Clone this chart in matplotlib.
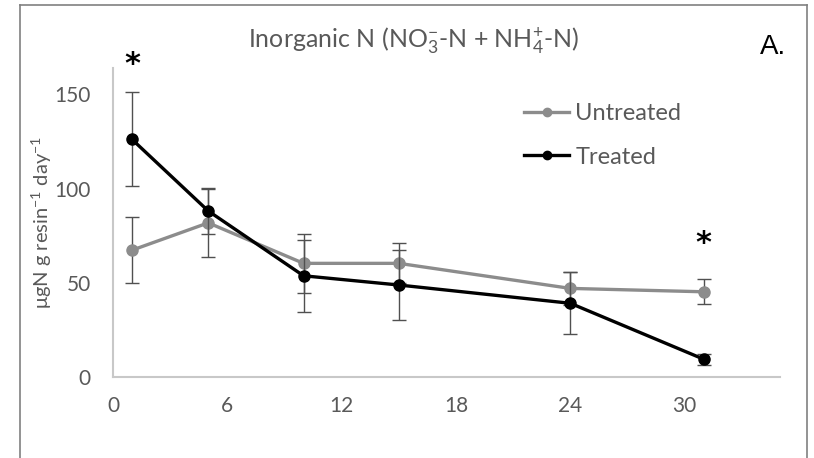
import matplotlib.pyplot as plt
from matplotlib.lines import Line2D

plt.rcParams['font.family'] = ['Lato', 'DejaVu Sans']
plt.rcParams['mathtext.fontset'] = 'custom'
plt.rcParams['mathtext.rm'] = 'Lato'
plt.rcParams['mathtext.it'] = 'Lato:italic'

days = [1, 5, 10, 15, 24, 31]
untreated = [67.3, 81.8, 60.3, 60.3, 47.0, 45.2]
untreated_err = [17.4, 18.2, 15.5, 10.6, 8.8, 6.6]
treated = [126.1, 88.1, 53.7, 48.8, 39.1, 9.4]
treated_err = [25.0, 12.0, 19.0, 18.8, 16.5, 3.0]
xticks = [0, 6, 12, 18, 24, 30]
yticks = [0, 50, 100, 150]
# significant differences (day, height of marker)
star_days = [1, 31]
star_heights = [166, 71]

GREY_TEXT = '#595959'

fig = plt.figure(figsize=(8.14, 4.58), dpi=100)
ax = fig.add_axes([0.1388, 0.177, 0.8194, 0.6745])

ax.errorbar(days, untreated, yerr=untreated_err, color='#8c8c8c', lw=2.4,
            marker='o', ms=8, ecolor='#505050', elinewidth=1, capsize=5,
            capthick=1, label='Untreated', zorder=2)
ax.errorbar(days, treated, yerr=treated_err, color='black', lw=2.4,
            marker='o', ms=8, ecolor='#505050', elinewidth=1, capsize=5,
            capthick=1, label='Treated', zorder=3)

for d, h in zip(star_days, star_heights):
    ax.text(d, h, '*', ha='center', va='center', fontsize=22,
            fontweight='bold', color='black', family='DejaVu Sans',
            clip_on=False)

ax.set_xlim(0, 35)
ax.set_ylim(0, 164)
ax.set_xticks(xticks)
ax.set_yticks(yticks)
ax.tick_params(length=0, labelsize=15, colors=GREY_TEXT)
ax.tick_params(axis='y', pad=16)
ax.tick_params(axis='x', pad=14)
for side in ['top', 'right']:
    ax.spines[side].set_visible(False)
for side in ['left', 'bottom']:
    ax.spines[side].set_color('#c8c8c8')
    ax.spines[side].set_linewidth(1.5)

ax.set_ylabel(r'$\mathregular{\mu gN\ g\ resin^{-1}\ day^{-1}}$',
              fontsize=14.5, color=GREY_TEXT, labelpad=0)

# legend entries drawn without error bars
handles = [Line2D([], [], color='#8c8c8c', lw=2.4, marker='o', ms=6),
           Line2D([], [], color='black', lw=2.4, marker='o', ms=6)]
leg = ax.legend(handles, ['Untreated', 'Treated'], loc='upper left',
                bbox_to_anchor=(0.585, 0.955), frameon=False, fontsize=17,
                handlelength=1.9, handletextpad=0.25, labelspacing=0.95,
                labelcolor=GREY_TEXT)

fig.text(0.5085, 0.912, r'Inorganic N (NO$\mathregular{_3^{-}}$-N + NH$\mathregular{_4^{+}}$-N)',
         ha='center', va='center', fontsize=18, color=GREY_TEXT)
fig.text(0.933, 0.898, 'A.', ha='left', va='center', fontsize=20,
         color='black', family='Liberation Sans')

# chart frame
for xs, ys in [([20, 20], [458, 5]), ([20, 807], [5, 5]), ([807, 807], [5, 458])]:
    fig.add_artist(Line2D([x / 814 for x in xs], [1 - y / 458 for y in ys],
                          color='#808080', lw=1.2))

fig.savefig('out.png', dpi=100)
